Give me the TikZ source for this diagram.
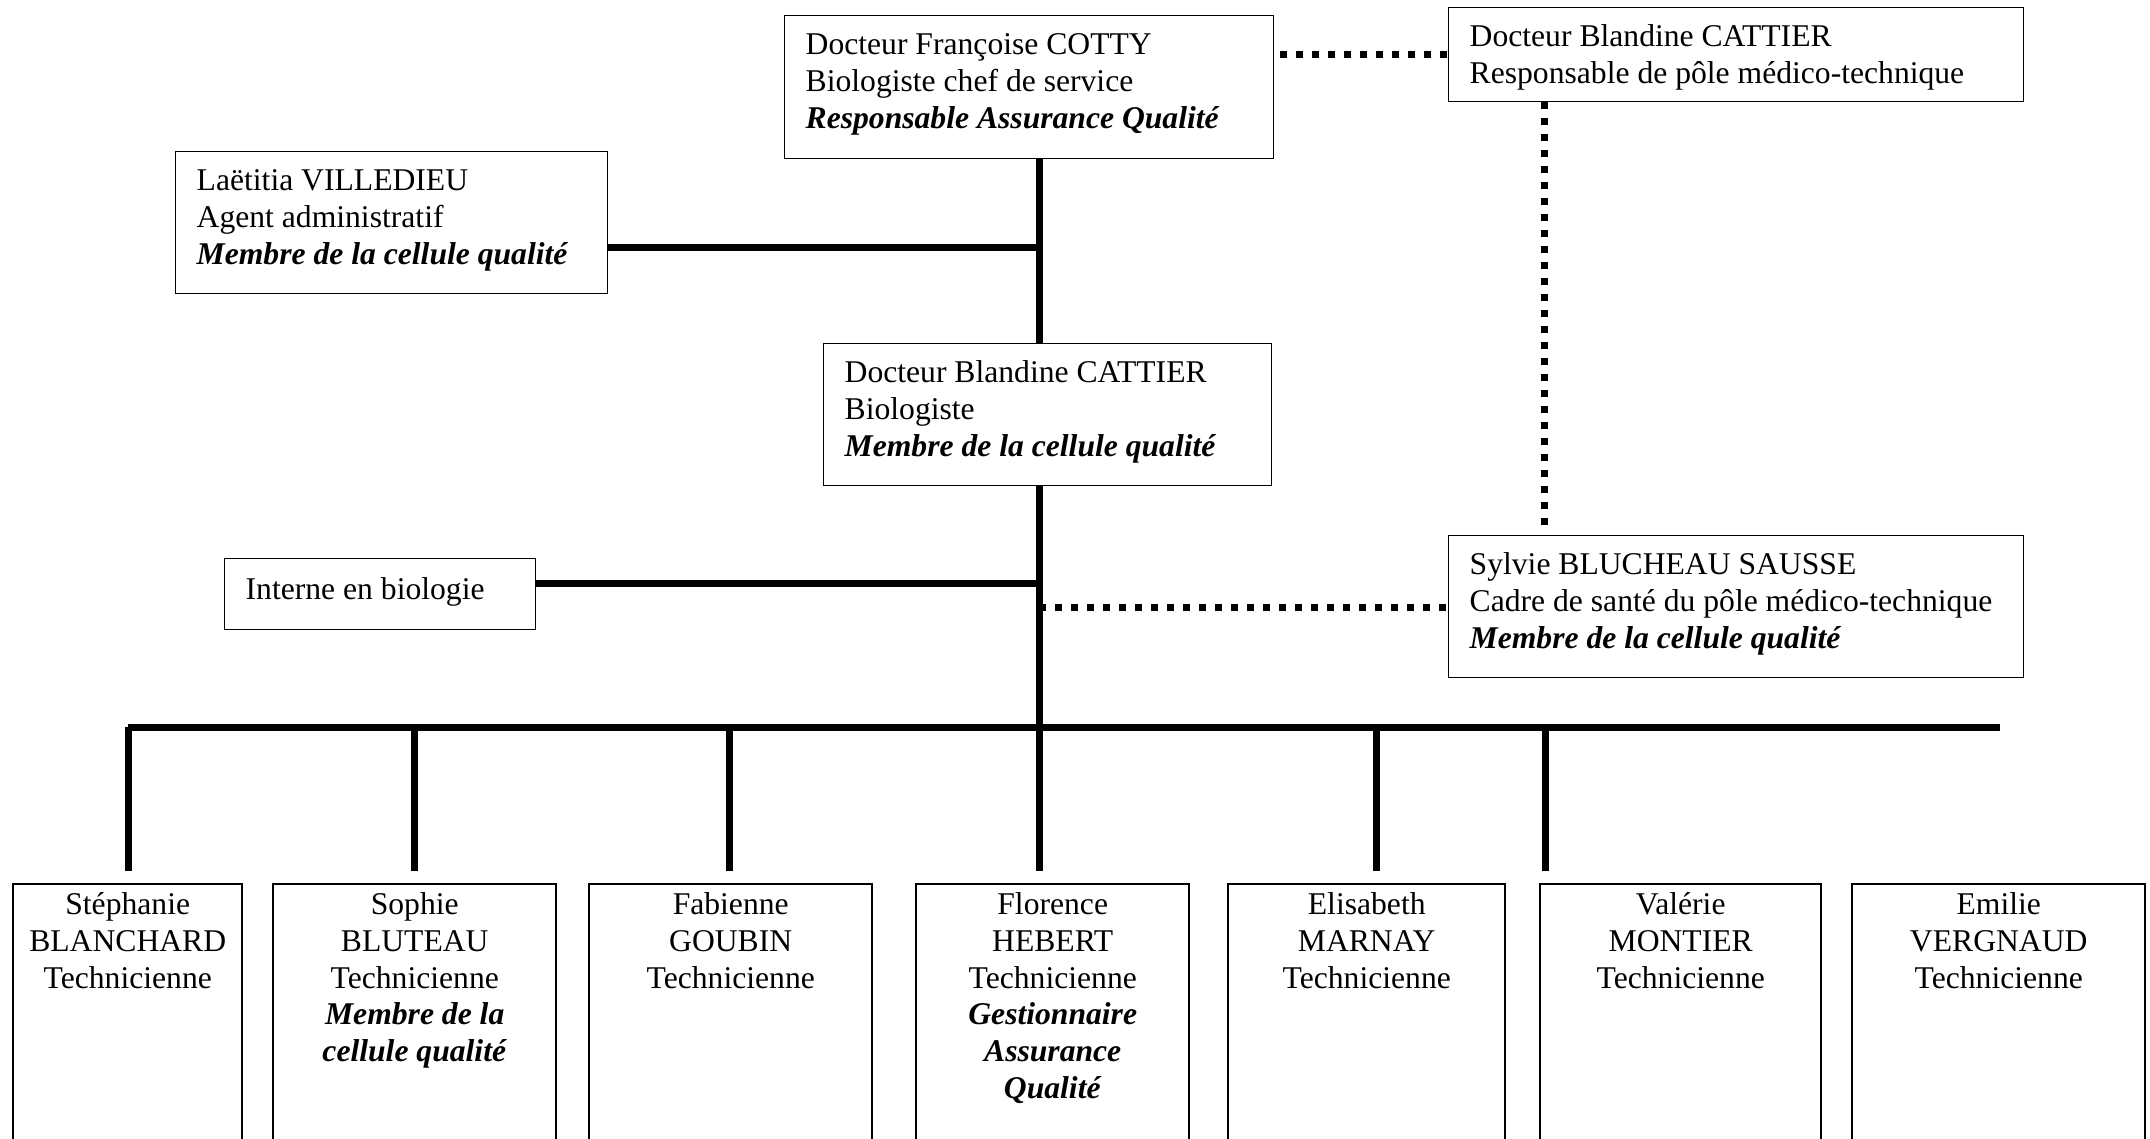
\documentclass[tikz,border=0pt]{standalone}
\usepackage{fontspec}
\setmainfont{Liberation Serif}
\newcommand{\lefttext}[4]{\parbox[t][#2][t]{#1}{\raggedright\rule{0pt}{#3}#4}}
\newcommand{\centertext}[3]{\parbox[t][#2][t]{#1}{\centering\rule{0pt}{3mm}#3}}
\newcommand{\bi}[1]{\textbf{\textit{#1}}}
\tikzset{
  orgbox/.style={draw, line width=0.4pt, inner ysep=0pt, inner xsep=2.1mm, anchor=north west,
                 font=\fontsize{9}{10.5}\selectfont},
  techbox/.style={draw, line width=0.7pt, inner sep=0pt, anchor=north west,
                 font=\fontsize{9}{10.5}\selectfont},
  link/.style={line width=0.7mm},
  dotlink/.style={line width=0.7mm, dash pattern=on 0.7mm off 0.9mm},
}
\begin{document}
\begin{tikzpicture}[x=0.1mm, y=-0.1mm]
\useasboundingbox (0,0) rectangle (2150,1138);
\fill[white] (0,0) rectangle (2150,1138);
\clip (0,0) rectangle (2150,1138);

% upper boxes
\node[orgbox] (cotty) at (784,15)
  {\lefttext{44.7mm}{14.3mm}{3.9mm}{Docteur Françoise COTTY\\Biologiste chef de service\\\bi{Responsable Assurance Qualité}}};
\node[orgbox] (cattierT) at (1448,7)
  {\lefttext{53.3mm}{9.4mm}{3.9mm}{Docteur Blandine CATTIER\\Responsable de pôle médico-technique}};
\node[orgbox] (villedieu) at (175,151)
  {\lefttext{39mm}{14.2mm}{3.9mm}{Laëtitia VILLEDIEU\\Agent administratif\\\bi{Membre de la cellule qualité}}};
\node[orgbox] (bio) at (823,343)
  {\lefttext{40.6mm}{14.2mm}{3.9mm}{Docteur Blandine CATTIER\\Biologiste\\\bi{Membre de la cellule qualité}}};
\node[orgbox] (interne) at (224,558)
  {\lefttext{26.9mm}{7.1mm}{4.1mm}{Interne en biologie}};
\node[orgbox] (sylvie) at (1448,535)
  {\lefttext{53.3mm}{14.2mm}{3.9mm}{Sylvie BLUCHEAU SAUSSE\\Cadre de santé du pôle médico-technique\\\bi{Membre de la cellule qualité}}};

% technician boxes
\node[techbox] (stephanie) at (12,883)  {\centertext{22.9mm}{31.7mm}{Stéphanie\\BLANCHARD\\Technicienne}};
\node[techbox] (sophie)    at (272,883) {\centertext{28.3mm}{31.7mm}{Sophie\\BLUTEAU\\Technicienne\\\bi{Membre de la}\\\bi{cellule qualité}}};
\node[techbox] (fabienne)  at (588,883) {\centertext{28.3mm}{31.7mm}{Fabienne\\GOUBIN\\Technicienne}};
\node[techbox] (florence)  at (915,883) {\centertext{27.3mm}{31.7mm}{Florence\\HEBERT\\Technicienne\\\bi{Gestionnaire}\\\bi{Assurance}\\\bi{Qualité}}};
\node[techbox] (elisabeth) at (1227,883){\centertext{27.7mm}{31.7mm}{Elisabeth\\MARNAY\\Technicienne}};
\node[techbox] (valerie)   at (1539,883){\centertext{28.1mm}{31.7mm}{Valérie\\MONTIER\\Technicienne}};
\node[techbox] (emilie)    at (1851,883){\centertext{29.3mm}{31.7mm}{Emilie\\VERGNAUD\\Technicienne}};

% junction coordinates
\coordinate (jV) at (1039,247);
\coordinate (jI) at (1039,583);
\coordinate (jS) at (1039,607);
\coordinate (busL) at (128,727);
\coordinate (busR) at (2000,727);
\coordinate (dStep) at (128,871);
\coordinate (dSoph) at (414,871);
\coordinate (dFab)  at (729,871);
\coordinate (dFlo)  at (1039,871);
\coordinate (dEli)  at (1376,871);
\coordinate (dVal)  at (1545,871);
\coordinate (dotA) at (1280,54);
\coordinate (dotB) at (1544,528);

% solid connectors
\draw[link] (cotty.south -| jV) -- (bio.north -| jV);
\draw[link] (bio.south -| jV) -- (dFlo);
\draw[link] (villedieu.east |- jV) -- (jV);
\draw[link] (interne.east |- jI) -- (jI);
\draw[link] (busL) -- (busR);
\foreach \d in {dStep,dSoph,dFab,dEli,dVal}
  \draw[link] (\d |- busL) -- (\d);

% dotted connectors
\draw[dotlink] (dotA) -- (cattierT.west |- dotA);
\draw[dotlink] (cattierT.south -| dotB) -- (dotB);
\draw[dotlink] (jS) -- (sylvie.west |- jS);
\end{tikzpicture}
\end{document}
